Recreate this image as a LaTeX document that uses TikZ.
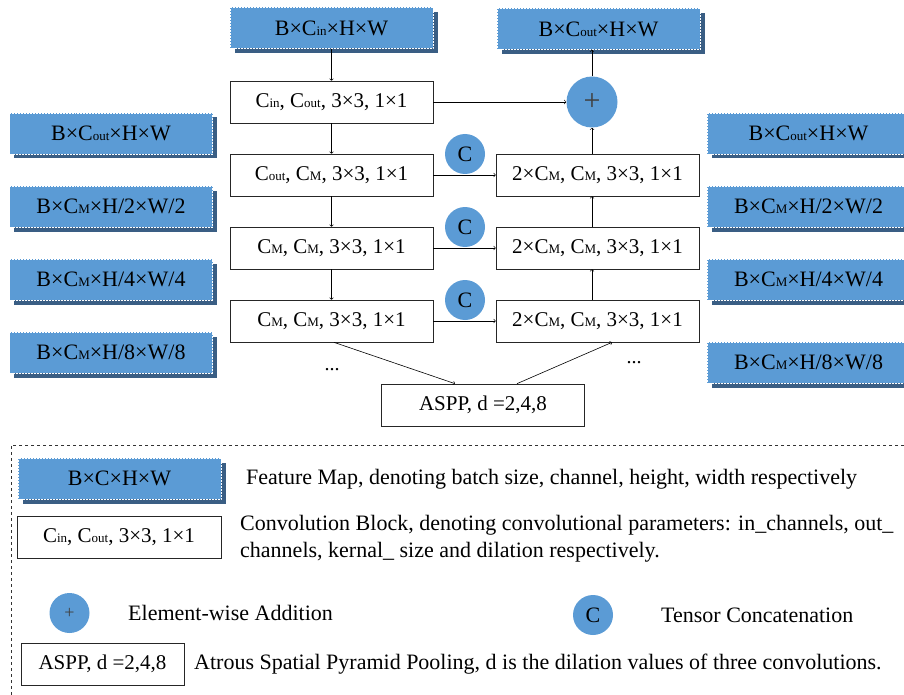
\documentclass[tikz,border=0pt]{standalone}
\usepackage{fontspec}
\setmainfont{Liberation Serif}
\usepackage{tikz}
\usetikzlibrary{calc,shadows}
\definecolor{mapblue}{RGB}{91,155,213}
\definecolor{mapdark}{RGB}{58,94,132}
\newcommand\sbt[1]{{\fontsize{13}{13}\selectfont #1}}

\begin{document}
\begin{tikzpicture}[x=1pt,y=-1pt,
  fmap/.style={rectangle,fill=mapblue,draw=white,densely dotted,line width=0.5pt,
    minimum width=203pt,minimum height=41pt,inner sep=0pt,font=\fontsize{22}{26}\selectfont,
    copy shadow={shadow xshift=4.5pt,shadow yshift=-4.5pt,fill=mapdark,draw=none}},
  conv/.style={rectangle,draw=black!85,line width=0.7pt,minimum width=203pt,minimum height=42pt,
    inner sep=0pt,font=\fontsize{21}{25}\selectfont},
  dot/.style={circle,fill=mapblue,inner sep=0pt,minimum size=40pt,font=\fontsize{22}{26}\selectfont},
  link/.style={->,line width=0.6pt},
  legtxt/.style={anchor=west,inner sep=0pt,font=\fontsize{22}{27}\selectfont,align=left}]
\useasboundingbox (0,0) rectangle (904,695);
\clip (0,0) rectangle (904,695);

\node[fmap] (inmap) at (331.5,28) {B×C\sbt{in}×H×W};
\node[fmap] (outmap) at (598.5,29) {B×C\sbt{out}×H×W};
\node[conv] (c1) at (331.5,102) {C\sbt{in}, C\sbt{out}, 3×3, 1×1};
\node[dot,minimum size=51pt,font=\fontsize{30}{30}\selectfont,text=black!75] (plus) at (592,102) {+};

\node[conv] (c2) at (331.5,175) {C\sbt{out}, C\sbt{M}, 3×3, 1×1};
\node[conv] (c3) at (331.5,248) {C\sbt{M}, C\sbt{M}, 3×3, 1×1};
\node[conv] (c4) at (331.5,321) {C\sbt{M}, C\sbt{M}, 3×3, 1×1};
\node[conv] (r2) at (597.5,175) {2×C\sbt{M}, C\sbt{M}, 3×3, 1×1};
\node[conv] (r3) at (597.5,248) {2×C\sbt{M}, C\sbt{M}, 3×3, 1×1};
\node[conv] (r4) at (597.5,321) {2×C\sbt{M}, C\sbt{M}, 3×3, 1×1};
\node[dot] (cat1) at (465,154) {C};
\node[dot] (cat2) at (465,227) {C};
\node[dot] (cat3) at (465,300) {C};
\node[conv] (aspp) at (483,405) {ASPP, d =2,4,8};
\node[font=\fontsize{20}{24}\selectfont] (dotsl) at (332,370) {...};
\node[font=\fontsize{20}{24}\selectfont] (dotsr) at (634,363) {...};

\node[fmap] (lmap1) at (111,133.5) {B×C\sbt{out}×H×W};
\node[fmap] (lmap2) at (111,206.5) {B×C\sbt{M}×H/2×W/2};
\node[fmap] (lmap3) at (111,279.5) {B×C\sbt{M}×H/4×W/4};
\node[fmap] (lmap4) at (111,352.5) {B×C\sbt{M}×H/8×W/8};
\node[fmap] (rmap1) at (808.5,133.5) {B×C\sbt{out}×H×W};
\node[fmap] (rmap2) at (808.5,206.5) {B×C\sbt{M}×H/2×W/2};
\node[fmap] (rmap3) at (808.5,279.5) {B×C\sbt{M}×H/4×W/4};
\node[fmap] (rmap4) at (808.5,362.5) {B×C\sbt{M}×H/8×W/8};

\draw[link] (inmap) -- (c1);
\draw[link] (c1) -- (c2);
\draw[link] (c2) -- (c3);
\draw[link] (c3) -- (c4);
\draw[link] (c1) -- (plus);
\draw[link] (c2) -- (r2);
\draw[link] (c3) -- (r3);
\draw[link] (c4) -- (r4);
\draw[link] (r4.north -| plus) -- (r3.south -| plus);
\draw[link] (r3.north -| plus) -- (r2.south -| plus);
\draw[link] (r2.north -| plus) -- (plus);
\draw[link] (plus) -- (outmap.south -| plus);
\draw[link] ([xshift=2.5pt]c4.south) -- ([xshift=-28pt]aspp.north);
\draw[link] ([xshift=34pt]aspp.north) -- ([xshift=14.5pt]r4.south);

\draw[black!80,dashed,line width=0.6pt] (904,445) -- (11,445) -- (11,695);

\node[fmap] (legmap) at (119.5,478.5) {B×C×H×W};
\node[legtxt] (legmaptxt) at (246,479) {Feature Map, denoting batch size, channel, height, width respectively};
\node[conv,minimum width=204pt] (legconv) at (119,537) {C\sbt{in}, C\sbt{out}, 3×3, 1×1};
\node[legtxt] (legconvtxt) at (240,538.5) {Convolution Block, denoting convolutional parameters: in\_channels, out\_\\
channels, kernal\_ size and dilation respectively.};
\node[dot,font=\fontsize{18}{18}\selectfont,text=black!75] (legplus) at (69.5,613) {+};
\node[legtxt] (legplustxt) at (128,613) {Element-wise Addition};
\node[dot] (legcat) at (593,615) {C};
\node[legtxt] (legcattxt) at (661,615) {Tensor Concatenation};
\node[conv,minimum width=163pt] (legaspp) at (102.5,664) {ASPP, d =2,4,8};
\node[legtxt] (legaspptxt) at (194,664) {Atrous Spatial Pyramid Pooling, d is the dilation values of three convolutions.};
\end{tikzpicture}
\end{document}
